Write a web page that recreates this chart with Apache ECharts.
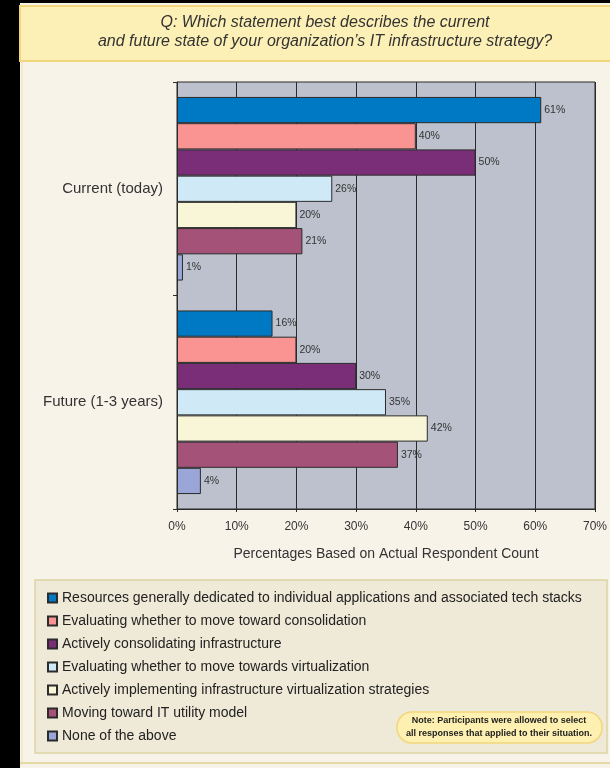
<!DOCTYPE html>
<html>
<head>
<meta charset="utf-8">
<script src="https://cdn.jsdelivr.net/npm/echarts@6/dist/echarts.min.js"></script>
<style>
html,body{margin:0;padding:0;background:#000;}
#chart{width:610px;height:768px;}
</style>
</head>
<body>
<div id="chart"></div>
<script>
// ---- data ----
var categories = ['Current (today)', 'Future (1-3 years)'];
var seriesNames = [
  'Resources generally dedicated to individual applications and associated tech stacks',
  'Evaluating whether to move toward consolidation',
  'Actively consolidating infrastructure',
  'Evaluating whether to move towards virtualization',
  'Actively implementing infrastructure virtualization strategies',
  'Moving toward IT utility model',
  'None of the above'
];
var resourcesDedicated = [61, 16];
var evalConsolidation = [40, 20];
var activelyConsolidating = [50, 30];
var evalVirtualization = [26, 35];
var activelyVirtualizing = [20, 42];
var itUtilityModel = [21, 37];
var noneOfAbove = [1, 4];
var xTicks = [0, 10, 20, 30, 40, 50, 60, 70];

var seriesValues = [resourcesDedicated, evalConsolidation, activelyConsolidating,
  evalVirtualization, activelyVirtualizing, itUtilityModel, noneOfAbove];
var colors = ['#0079c4', '#f99492', '#7b2e78', '#d0e9f6', '#f8f6d7', '#a45277', '#9ba6d8'];

var chart = echarts.init(document.getElementById('chart'), null, {renderer: 'canvas'});

var series = seriesNames.map(function (name, i) {
  return {
    name: name,
    type: 'bar',
    data: seriesValues[i],
    barGap: '0%',
    barCategoryGap: '14%',
    itemStyle: {color: colors[i], borderColor: '#2b2b2b', borderWidth: 1},
    label: {
      show: true, position: 'right', distance: 3,
      formatter: '{c}%', fontSize: 10.5, color: '#333',
      fontFamily: 'Liberation Sans'
    },
    emphasis: {disabled: true}
  };
});

var option = {
  animation: false,
  backgroundColor: '#000',
  textStyle: {fontFamily: 'Liberation Sans'},
  graphic: [
    {type: 'rect', z: -10, shape: {x: 20, y: 3, width: 600, height: 770}, style: {fill: '#f7f3e8'}},
    {type: 'rect', z: -9, shape: {x: 20, y: 6, width: 600, height: 55}, style: {fill: '#fdf0b6', stroke: '#f3d67c', lineWidth: 2}},
    {type: 'line', z: -9, shape: {x1: 22, y1: 61, x2: 22, y2: 765}, style: {stroke: '#efe0a8', lineWidth: 1}},
    {type: 'line', z: -9, shape: {x1: 20, y1: 763, x2: 620, y2: 763}, style: {stroke: '#e6daa4', lineWidth: 2}},
    {type: 'text', z: 5, style: {
      text: 'Q: Which statement best describes the current\nand future state of your organization\u2019s IT infrastructure strategy?',
      x: 325, y: 13, textAlign: 'center', fill: '#333', font: 'italic 16px "Liberation Sans"', lineHeight: 19}},
    {type: 'rect', z: -8, shape: {x: 35, y: 580, width: 572, height: 173}, style: {fill: '#efe9d7', stroke: '#ddd3a2', lineWidth: 1.5}},
    {type: 'rect', z: 2, shape: {x: 397, y: 712, width: 205, height: 31, r: 15}, style: {fill: '#fdf0b0', stroke: '#f3d67c', lineWidth: 1.5}},
    {type: 'text', z: 3, style: {
      text: 'Note: Participants were allowed to select\nall responses that applied to their situation.',
      x: 499, y: 714, textAlign: 'center', fill: '#222', font: 'bold 9px "Liberation Sans Narrow", "Liberation Sans"', lineHeight: 13}}
  ],
  grid: {
    left: 177, top: 82, width: 421, height: 427,
    show: true, backgroundColor: '#bcc1cd', borderColor: '#2b2b2b', borderWidth: 1,
    containLabel: false
  },
  legend: {
    orient: 'vertical', left: 47, top: 591, padding: 0,
    itemWidth: 9, itemHeight: 9, itemGap: 9,
    icon: 'rect',
    selectedMode: false,
    data: seriesNames,
    textStyle: {fontSize: 14, color: '#222', lineHeight: 14, fontFamily: 'Liberation Sans'}
  },
  xAxis: {
    type: 'value', min: 0, max: 70, interval: 10,
    axisLine: {show: true, lineStyle: {color: '#2b2b2b'}},
    axisTick: {show: true, length: 3, lineStyle: {color: '#2b2b2b'}},
    splitLine: {show: true, lineStyle: {color: '#2b2b2b', width: 1}},
    axisLabel: {formatter: '{value}%', fontSize: 12, color: '#333', margin: 12},
    name: 'Percentages Based on Actual Respondent Count',
    nameLocation: 'middle', nameGap: 38,
    nameTextStyle: {fontSize: 14, color: '#333'}
  },
  yAxis: {
    type: 'category', data: categories, inverse: true,
    axisLine: {show: true, lineStyle: {color: '#2b2b2b'}},
    axisTick: {show: true, length: 4, lineStyle: {color: '#2b2b2b'}},
    axisLabel: {fontSize: 15, color: '#333', margin: 14}
  },
  series: series
};
chart.setOption(option);
</script>
</body>
</html>
